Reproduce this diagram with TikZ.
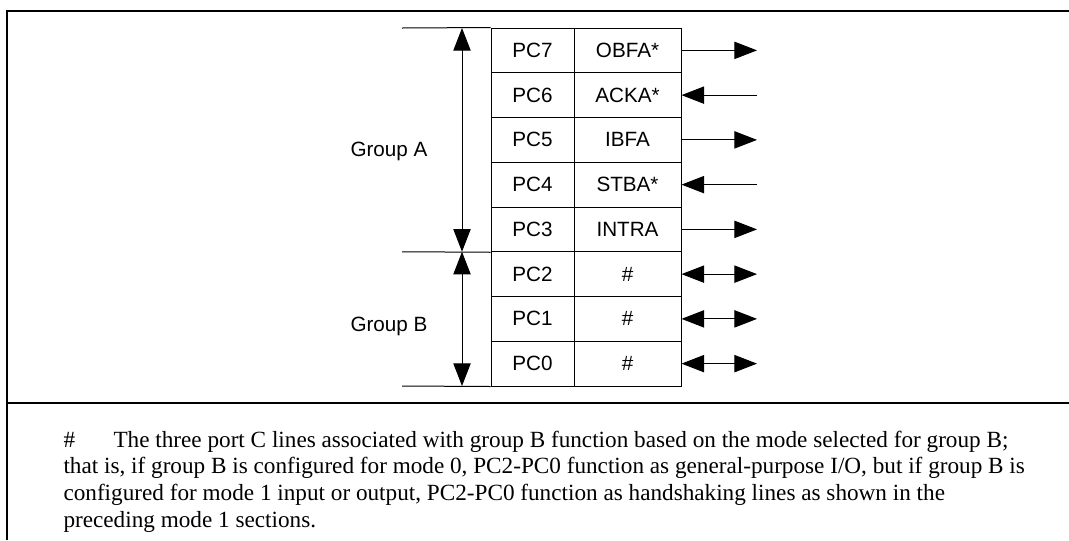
\documentclass[tikz,border=0pt]{standalone}
\usepackage{fontspec}
\setmainfont{Liberation Serif}
\newfontfamily\pinfont{Liberation Sans}
\usetikzlibrary{arrows.meta}

\tikzset{
  pincell/.style={draw, line width=0.75pt, minimum width=62.25pt, minimum height=33.56pt,
    inner sep=0pt, font=\pinfont\fontsize{15.5}{18}\selectfont},
  sigcell/.style={pincell, minimum width=80.25pt},
  grp/.style={font=\pinfont\fontsize{15.5}{18}\selectfont},
  note/.style={anchor=base west, inner sep=0pt, font=\fontsize{17.4}{21}\selectfont},
}

\begin{document}
\begin{tikzpicture}[x=0.75pt, y=-0.75pt, line width=0.75pt, >={Triangle[length=17pt,width=13pt]}]
\useasboundingbox (0,0) rectangle (1069,540);
% frame
\draw[line width=2pt] (1069,11) -- (7,11) -- (7,540);
\draw[line width=1.8pt] (7,403) -- (1069,403);

% port C lines
\node[pincell] (pc7) at (532.5,50.375) {PC7};
\node[sigcell] (sg7) at (627.5,50.375) {OBFA*};
\node[pincell] (pc6) at (532.5,95.125) {PC6};
\node[sigcell] (sg6) at (627.5,95.125) {ACKA*};
\node[pincell] (pc5) at (532.5,139.875) {PC5};
\node[sigcell] (sg5) at (627.5,139.875) {IBFA};
\node[pincell] (pc4) at (532.5,184.625) {PC4};
\node[sigcell] (sg4) at (627.5,184.625) {STBA*};
\node[pincell] (pc3) at (532.5,229.375) {PC3};
\node[sigcell] (sg3) at (627.5,229.375) {INTRA};
\node[pincell] (pc2) at (532.5,274.125) {PC2};
\node[sigcell] (sg2) at (627.5,274.125) {\#};
\node[pincell] (pc1) at (532.5,318.875) {PC1};
\node[sigcell] (sg1) at (627.5,318.875) {\#};
\node[pincell] (pc0) at (532.5,363.625) {PC0};
\node[sigcell] (sg0) at (627.5,363.625) {\#};

\coordinate (e7) at (757,50.375);
\coordinate (e6) at (757,95.125);
\coordinate (e5) at (757,139.875);
\coordinate (e4) at (757,184.625);
\coordinate (e3) at (757,229.375);
\coordinate (e2) at (757,274.125);
\coordinate (e1) at (757,318.875);
\coordinate (e0) at (757,363.625);
\draw[->] (sg7.east) -- (e7);
\draw[<-] (sg6.east) -- (e6);
\draw[->] (sg5.east) -- (e5);
\draw[<-] (sg4.east) -- (e4);
\draw[->] (sg3.east) -- (e3);
\draw[<->] (sg2.east) -- (e2);
\draw[<->] (sg1.east) -- (e1);
\draw[<->] (sg0.east) -- (e0);

% group A / group B
\coordinate (ta) at (402,28);
\coordinate (tb) at (402,251.75);
\coordinate (tc) at (402,386);
\draw (ta) -- (pc7.north west);
\draw (tb) -- (pc3.south west);
\draw (tc) -- (pc0.south west);
\coordinate (va) at (462,28);
\coordinate (vb) at (462,251.75);
\coordinate (vc) at (462,386);
\draw[<->] (va) -- (vb);
\draw[<->] (vb) -- (vc);
\node[grp] (grpa) at (389,151) {Group A};
\node[grp] (grpb) at (389,326) {Group B};

% footnote
\node[note] (hash) at (63,447) {\#};
\node[note] (ln1) at (113,447) {The three port C lines associated with group B function based on the mode selected for group B;};
\node[note] (ln2) at (63,473.5) {that is, if group B is configured for mode 0, PC2-PC0 function as general-purpose I/O, but if group B is};
\node[note] (ln3) at (63,500) {configured for mode 1 input or output, PC2-PC0 function as handshaking lines as shown in the};
\node[note] (ln4) at (63,527) {preceding mode 1 sections.};
\end{tikzpicture}
\end{document}
